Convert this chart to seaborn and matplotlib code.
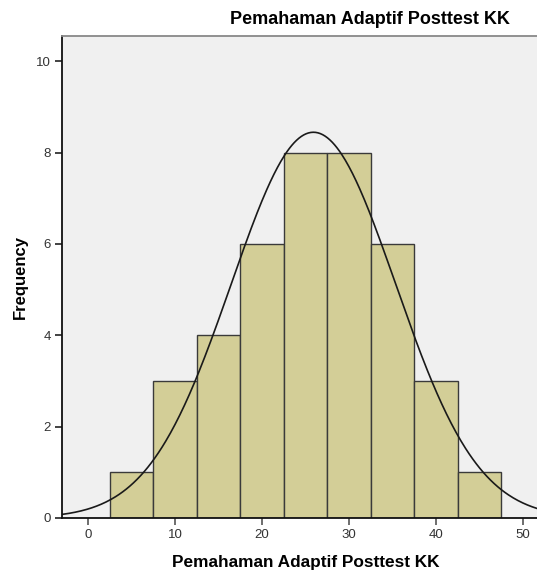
import numpy as np
import pandas as pd
import seaborn as sns
import matplotlib
matplotlib.use("Agg")
import matplotlib.pyplot as plt

# Data
bin_centers = [5, 10, 15, 20, 25, 30, 35, 40, 45]
counts = [1, 3, 4, 6, 8, 8, 6, 3, 1]
bin_width = 5
curve_mean = 25.9
curve_sd = 9.45
x_ticks = [0, 10, 20, 30, 40, 50]
y_ticks = [0, 2, 4, 6, 8, 10]
title = "Pemahaman Adaptif Posttest KK"
x_label = "Pemahaman Adaptif Posttest KK"
y_label = "Frequency"

sns.set_style("ticks")
plt.rcParams['font.family'] = ['Liberation Sans', 'DejaVu Sans']
plt.rcParams['text.color'] = "black"
plt.rcParams['axes.labelcolor'] = "black"

fig = plt.figure(figsize=(5.37, 5.74), dpi=100)
ax = fig.add_axes([62/537, 56/574, 1 - 62/537, (518-36)/574])
ax.set_facecolor("#F0F0F0")

df = pd.DataFrame({"x": bin_centers, "n": counts})
edges = [c - bin_width/2 for c in bin_centers] + [bin_centers[-1] + bin_width/2]
sns.histplot(data=df, x="x", weights="n", bins=edges, ax=ax,
             color="#D3CE97", alpha=1.0, edgecolor="#3a3a3a", linewidth=1.0)

N = sum(counts)
xs = np.linspace(-3.0, 51.6, 400)
ys = N * bin_width / (curve_sd * np.sqrt(2*np.pi)) * np.exp(-0.5 * ((xs - curve_mean)/curve_sd)**2)
sns.lineplot(x=xs, y=ys, ax=ax, color="#1a1a1a", linewidth=1.2)

ax.set_xlim(-3.0, 51.6)
ax.set_ylim(0, 10.55)
ax.set_xticks(x_ticks)
ax.set_yticks(y_ticks)
ax.tick_params(axis="both", labelsize=9.5, length=5, width=1.2, direction="out", pad=3)
ax.tick_params(axis="x", labelcolor="#333333", color="#555555")
ax.tick_params(axis="y", labelcolor="#333333", color="#222222")

for s in ["left", "bottom"]:
    ax.spines[s].set_color("#111111")
    ax.spines[s].set_linewidth(1.3)
ax.spines["top"].set_color("#888888")
ax.spines["top"].set_linewidth(1.3)
ax.spines["right"].set_visible(False)

ax.set_xlabel(x_label, fontsize=12.4, fontweight="bold", color="black")
ax.set_ylabel(y_label, fontsize=12, fontweight="bold", color="black")
ax.xaxis.set_label_coords((306-62)/475, -(563-518)/482)
ax.yaxis.set_label_coords(-(62-20)/475, 0.5)
ax.xaxis.label.set_va("center")
ax.yaxis.label.set_va("center")
fig.text(510/537, 1 - 19/574, title, ha="right", va="center", fontsize=13.0,
         fontweight="bold", color="black")

fig.savefig("out.png", dpi=100)
